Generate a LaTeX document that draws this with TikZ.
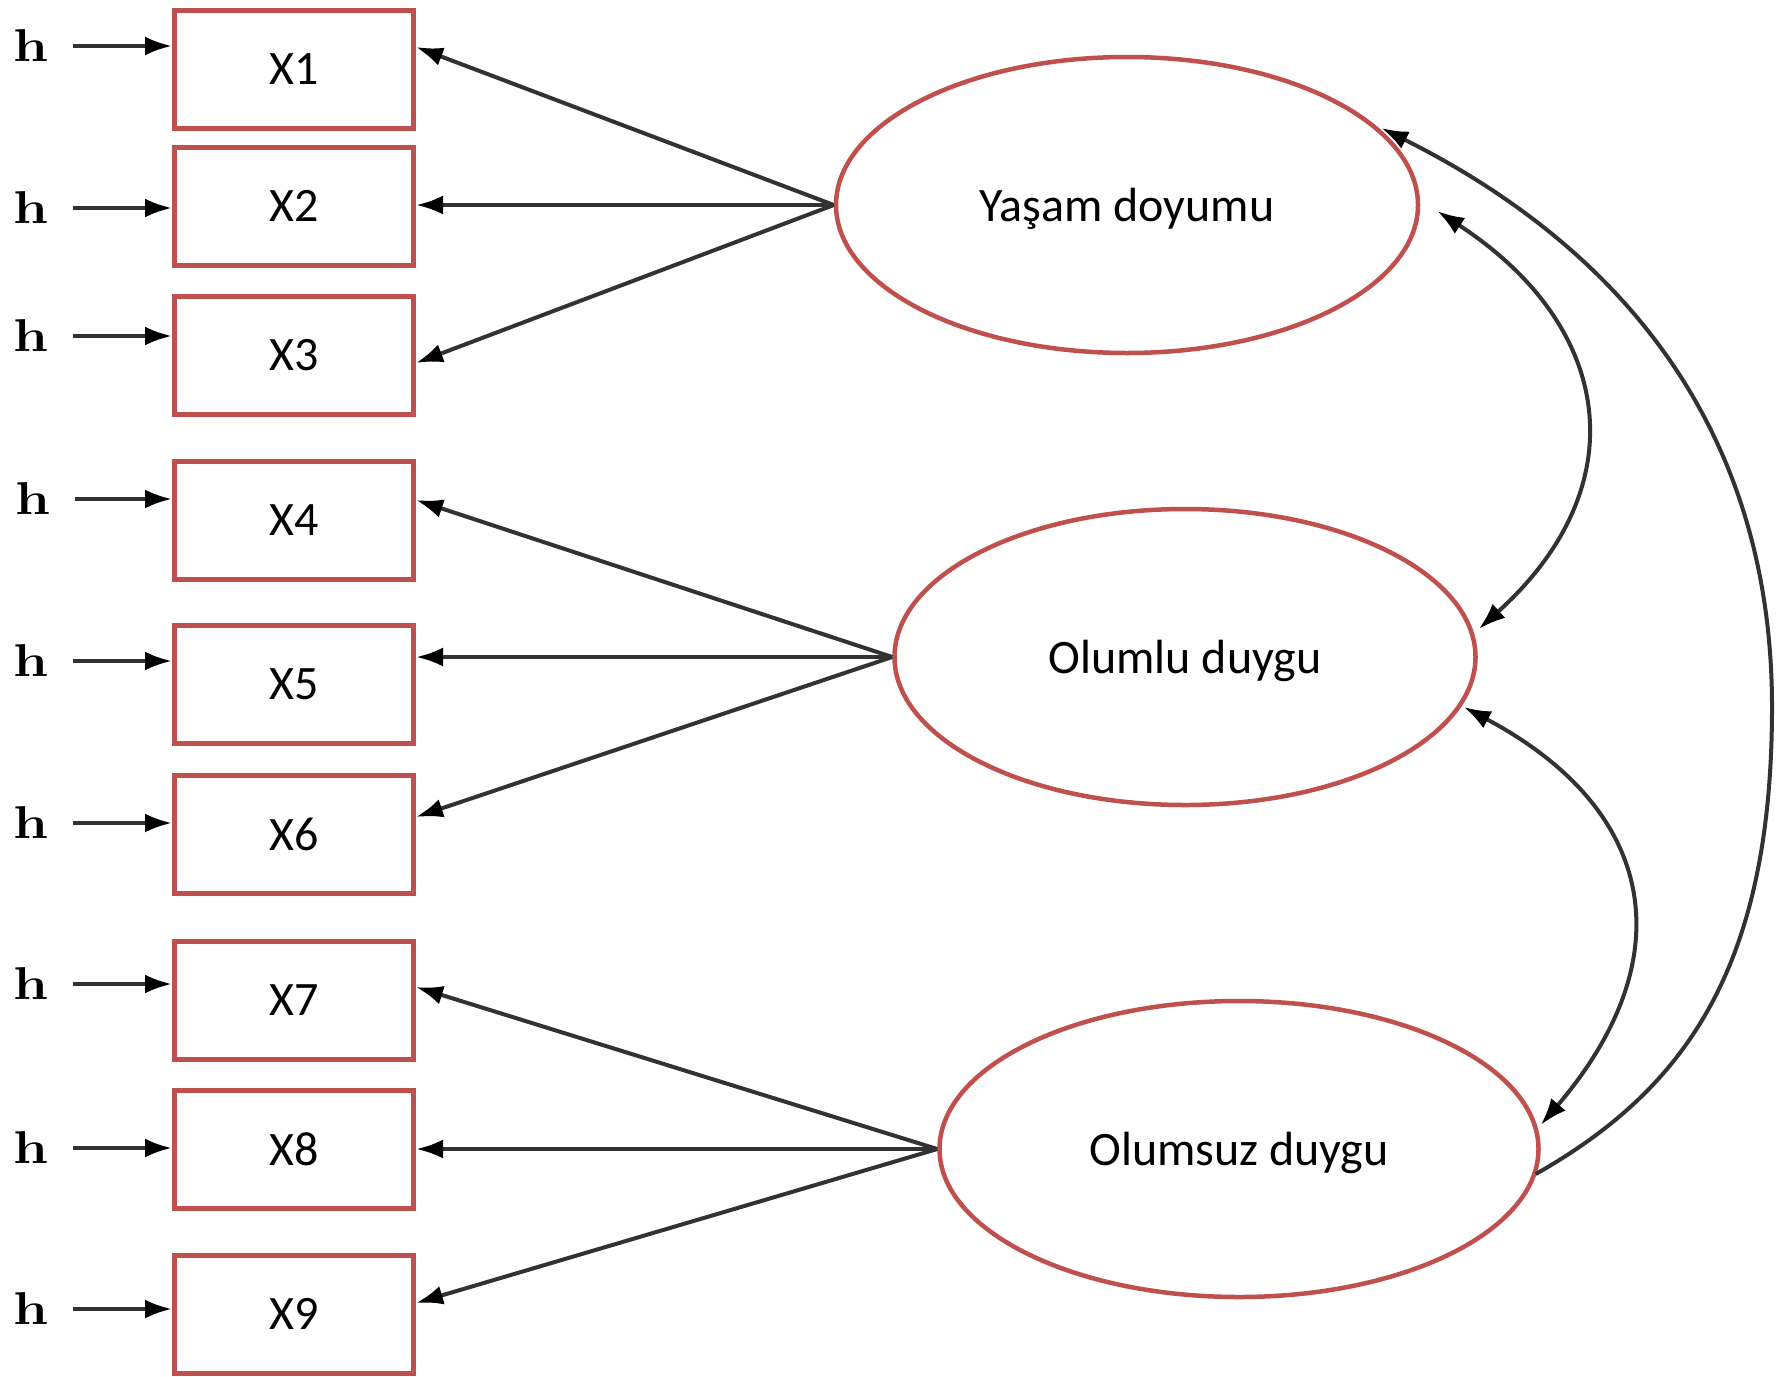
\documentclass[tikz,border=0pt]{standalone}
\usepackage{graphicx}
\usepackage{fontspec}
\setsansfont{Carlito}
\usetikzlibrary{arrows.meta,shapes.geometric}
\definecolor{boxred}{RGB}{192,80,77}
\definecolor{linegray}{RGB}{50,50,50}
\newcommand{\errsym}{\scalebox{1.22}[1]{h}}
\begin{document}
\begin{tikzpicture}[x=1pt,y=-1pt,
  >={Latex[length=27pt,width=19pt,color=black]},
  obs/.style={draw=boxred, line width=5pt, fill=white, minimum width=239pt,
    minimum height=118pt, inner sep=0pt, font=\sffamily\fontsize{48}{58}\selectfont},
  lat/.style={ellipse, draw=boxred, line width=4.5pt, fill=white, inner sep=0pt,
    minimum height=296pt, text depth=0pt, font=\sffamily\fontsize{48}{58}\selectfont},
  errlab/.style={inner sep=0pt, font=\rmfamily\bfseries\fontsize{46}{54}\selectfont},
  link/.style={draw=linegray, line width=4pt},
  errarrow/.style={link, ->, shorten <=24pt}
]
\useasboundingbox (0,0) rectangle (1787,1376);
\fill[white] (0,0) rectangle (1787,1376);

% latent factors
\node[lat, minimum width=582pt] (yd) at (1127,205) {Yaşam doyumu};
\node[lat, minimum width=581pt] (od) at (1185,657) {Olumlu duygu};
\node[lat, minimum width=599pt] (nd) at (1239,1149) {Olumsuz duygu};

% observed indicators
\node[obs] (x1) at (294,69)   {X1};
\node[obs] (x2) at (294,206)  {X2};
\node[obs] (x3) at (294,355)  {X3};
\node[obs] (x4) at (294,520)  {X4};
\node[obs] (x5) at (294,684)  {X5};
\node[obs] (x6) at (294,834)  {X6};
\node[obs] (x7) at (294,1000) {X7};
\node[obs] (x8) at (294,1149) {X8};
\node[obs] (x9) at (294,1314) {X9};

% error terms
\node[errlab] (h1) at (31,46)   {\errsym};
\node[errlab] (h2) at (31,208)  {\errsym};
\node[errlab] (h3) at (31,336)  {\errsym};
\node[errlab] (h4) at (33,499)  {\errsym};
\node[errlab] (h5) at (31,661)  {\errsym};
\node[errlab] (h6) at (31,823)  {\errsym};
\node[errlab] (h7) at (31,984)  {\errsym};
\node[errlab] (h8) at (31,1148) {\errsym};
\node[errlab] (h9) at (31,1309) {\errsym};

\foreach \i in {1,...,9}
  \draw[errarrow] (h\i.east) -- (h\i.east -| x\i.west);

% factor loadings
\draw[link,->] (yd.west) -- ([yshift=22pt]x1.east);
\draw[link,->] (yd.west) -- (yd.west -| x2.east);
\draw[link,->] (yd.west) -- ([yshift=-8pt]x3.east);

\draw[link,->] (od.west) -- ([yshift=20pt]x4.east);
\draw[link,->] (od.west) -- (od.west -| x5.east);
\draw[link,->] (od.west) -- ([yshift=17pt]x6.east);

\draw[link,->] (nd.west) -- ([yshift=13pt]x7.east);
\draw[link,->] (nd.west) -- (nd.west -| x8.east);
\draw[link,->] (nd.west) -- ([yshift=11pt]x9.east);

% factor covariances
\draw[link,<->] ([xshift=17pt,yshift=-6pt]yd.east)
  .. controls +(178,116) and +(158,-142) .. ([xshift=1pt,yshift=28pt]od.east);
\draw[link,<->] ([xshift=-14pt,yshift=-50pt]od.east)
  .. controls +(194,103) and +(143,-167) .. ([yshift=24pt]nd.east);
\coordinate (outer) at (1772,707);
\draw[link,<-] ([xshift=-39pt,yshift=77pt]yd.east)
  .. controls +(230,115) and +(0,-287) .. (outer)
  .. controls +(0,260) and +(150,-85) .. ([xshift=-5pt,yshift=-25pt]nd.east);
\end{tikzpicture}
\end{document}
